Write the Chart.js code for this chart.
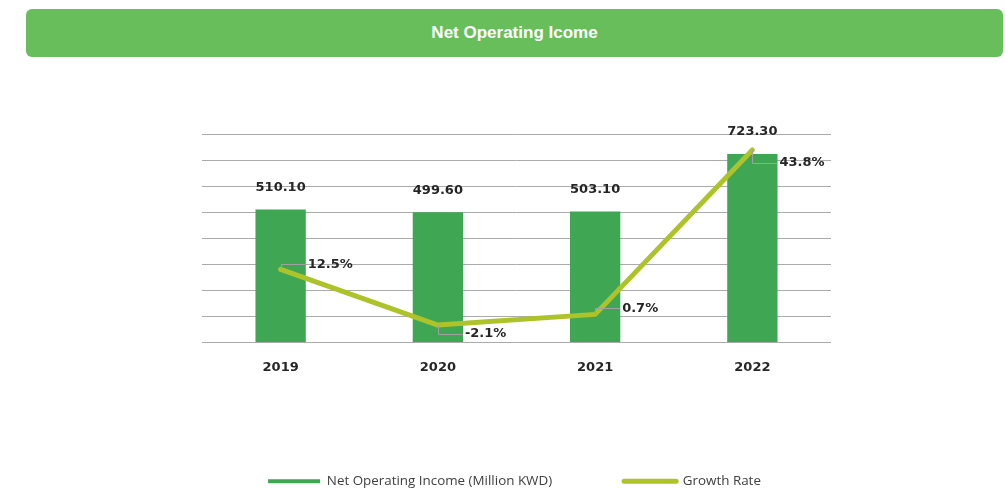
<!DOCTYPE html>
<html>
<head>
<meta charset="utf-8">
<script src="https://cdn.jsdelivr.net/npm/chart.js@4.4.1/dist/chart.umd.min.js"></script>
<style>
  html, body { margin: 0; padding: 0; background: #fff; width: 1005px; height: 491px; overflow: hidden; }
  .header {
    position: absolute; left: 26px; top: 9px; width: 977px; height: 48px;
    background: #67be5b; border-radius: 6px;
    color: #fff; font: bold 17px "Liberation Sans", Arial, sans-serif;
    display: flex; align-items: center; justify-content: center;
  }
  .wrap { position: absolute; left: 26px; top: 60px; width: 977px; height: 438px; }
</style>
</head>
<body>
<div class="header">Net Operating Icome</div>
<div class="wrap"><canvas id="chart"></canvas></div>
<script>
const years = ['2019', '2020', '2021', '2022'];
const netIncome = [510.1, 499.6, 503.1, 723.3];
const growthRate = [12.5, -2.1, 0.7, 43.8];

const barColor = '#3fa654';
const lineColor = '#aec32a';
// manual nudges for the growth labels, like the excel chart had
const growthLabelDy = [-5, 9, -6, 13];

const labelPlugin = {
    id: 'valueLabels',
    afterDatasetsDraw(chart) {
        const ctx = chart.ctx;
        ctx.save();
        ctx.font = 'bold 13px "DejaVu Sans", Verdana, sans-serif';
        ctx.fillStyle = '#262626';

        // dataset 1 = bars, dataset 0 = growth line
        const bars = chart.getDatasetMeta(1).data;
        ctx.textAlign = 'center';
        ctx.textBaseline = 'middle';
        bars.forEach((bar, i) => {
            ctx.fillText(netIncome[i].toFixed(2), bar.x, bar.y - 22);
        });

        const pts = chart.getDatasetMeta(0).data;
        ctx.textAlign = 'left';
        pts.forEach((p, i) => {
            const ly = p.y + growthLabelDy[i];
            const lx = p.x + 27;
            ctx.strokeStyle = '#a0a0a0';
            ctx.lineWidth = 1;
            ctx.beginPath();
            ctx.moveTo(Math.round(p.x) + 0.5, p.y);
            ctx.lineTo(Math.round(p.x) + 0.5, Math.round(ly) + 0.5);
            ctx.lineTo(lx - 2, Math.round(ly) + 0.5);
            ctx.stroke();
            ctx.fillText(growthRate[i].toFixed(1) + '%', lx, ly);
        });
        ctx.restore();
    }
};

new Chart(document.getElementById('chart'), {
    data: {
        labels: years,
        datasets: [
            {
                type: 'line',
                label: 'Growth Rate',
                data: growthRate,
                yAxisID: 'y1',
                borderColor: lineColor,
                borderWidth: 5,
                borderCapStyle: 'round',
                borderJoinStyle: 'round',
                pointRadius: 0,
                tension: 0,
                order: 0,
            },
            {
                type: 'bar',
                label: 'Net Operating Income (Million KWD)',
                data: netIncome,
                yAxisID: 'y',
                backgroundColor: barColor,
                barPercentage: 0.32,
                categoryPercentage: 1,
                order: 1,
            },
        ],
    },
    plugins: [labelPlugin],
    options: {
        responsive: true,
        maintainAspectRatio: false,
        animation: false,
        layout: { padding: { top: 74, left: 0, right: 0, bottom: 0 } },
        plugins: {
            tooltip: { enabled: false },
            legend: {
                position: 'bottom',
                reverse: true,
                labels: {
                    usePointStyle: true,
                    pointStyleWidth: 52,
                    padding: 72,
                    color: '#404040',
                    font: { family: '"Open Sans", sans-serif', size: 13.4 },
                    generateLabels: function (chart) {
                        return chart.data.datasets.map((ds, i) => ({
                            text: ds.label,
                            datasetIndex: i,
                            pointStyle: 'line',
                            fillStyle: ds.type === 'bar' ? barColor : lineColor,
                            strokeStyle: ds.type === 'bar' ? barColor : lineColor,
                            lineWidth: ds.type === 'bar' ? 4 : 5,
                            lineCap: ds.type === 'bar' ? 'butt' : 'round',
                            fontColor: '#404040',
                        }));
                    },
                },
            },
        },
        scales: {
            x: {
                grid: { display: false },
                border: { display: false },
                ticks: {
                    padding: 9,
                    color: '#262626',
                    font: { family: '"DejaVu Sans", Verdana, sans-serif', size: 13, weight: 'bold' },
                },
                afterFit: function (scale) { scale.height = 60; },
            },
            y: {
                position: 'left',
                min: 0,
                max: 800,
                ticks: { stepSize: 100, display: false },
                grid: { color: '#ababab', lineWidth: 1, drawTicks: false },
                border: { display: false },
                afterFit: function (scale) { scale.width = 176; },
            },
            y1: {
                position: 'right',
                min: -6.7,
                max: 48,
                ticks: { display: false },
                grid: { display: false },
                border: { display: false },
                afterFit: function (scale) { scale.width = 172; },
            },
        },
    },
});
</script>
</body>
</html>
